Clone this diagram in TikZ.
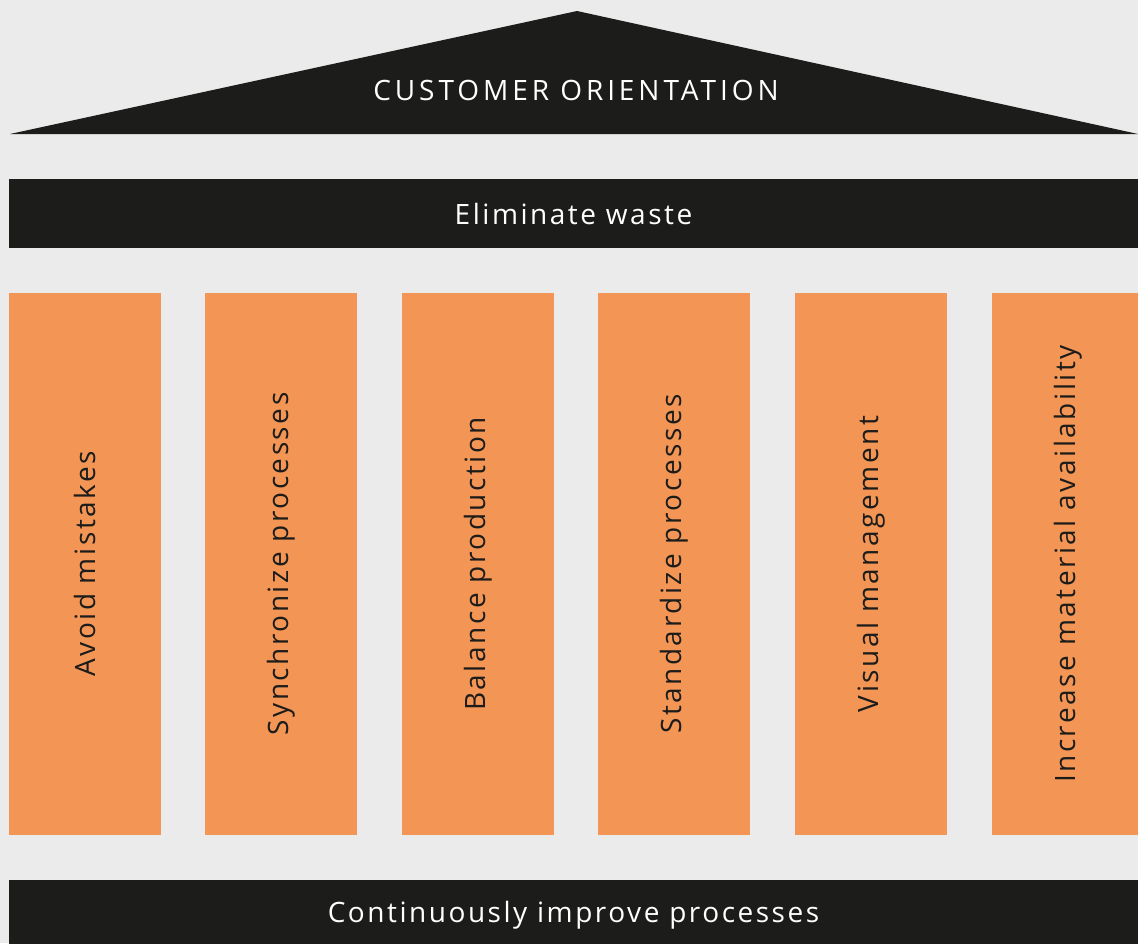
\documentclass[tikz,border=0pt]{standalone}
\usepackage{fontspec}
\setmainfont{Open Sans}[LetterSpace=9]
\usepackage{xcolor}
\usepackage{tikz}
\usetikzlibrary{positioning}
\definecolor{houseBlack}{RGB}{28,28,27}
\definecolor{houseGray}{RGB}{235,235,235}
\definecolor{houseOrange}{RGB}{243,150,85}

\begin{document}
\begin{tikzpicture}[x=0.75pt,y=-0.75pt]
	\tikzset{
		bar/.style={rectangle, fill=houseBlack, text=white, inner sep=0pt,
			minimum width=1129*0.75pt, font=\fontsize{21}{25}\selectfont},
		pillar/.style={rectangle, fill=houseOrange, text=houseBlack, inner sep=0pt,
			rotate=90, minimum width=542*0.75pt, minimum height=152*0.75pt,
			font=\fontsize{21}{25}\selectfont}
	}
	\useasboundingbox (0,0) rectangle (1138,943);
	\clip (0,0) rectangle (1138,943);
	\fill[houseGray] (0,0) rectangle (1138,943);
	
	% ROOF
	\coordinate (eaveL) at (10,134);
	\coordinate (apex) at (577,11);
	\coordinate (eaveR) at (1138,134);
	\fill[houseBlack] (eaveL) -- (apex) -- (eaveR) -- cycle;
	\node[text=white, font=\fontsize{21}{25}\selectfont\addfontfeatures{LetterSpace=14}] (roof) at (576,90) {CUSTOMER ORIENTATION};
	
	% BEAM
	\node[bar, minimum height=69*0.75pt] (waste) at (573.5,213.5) {Eliminate waste};
	
	% PILLARS
	\node[pillar] (p1) at (85,564) {Avoid mistakes};
	\node[pillar] (p2) at (281,564) {Synchronize processes};
	\node[pillar] (p3) at (478,564) {Balance production};
	\node[pillar] (p4) at (674,564) {Standardize processes};
	\node[pillar] (p5) at (871,564) {Visual management};
	\node[pillar] (p6) at (1068,564) {Increase material availability};
	
	% BASE
	\node[bar, minimum height=70*0.75pt] (improve) at (573.5,915) {Continuously improve processes};
\end{tikzpicture}
\end{document}
